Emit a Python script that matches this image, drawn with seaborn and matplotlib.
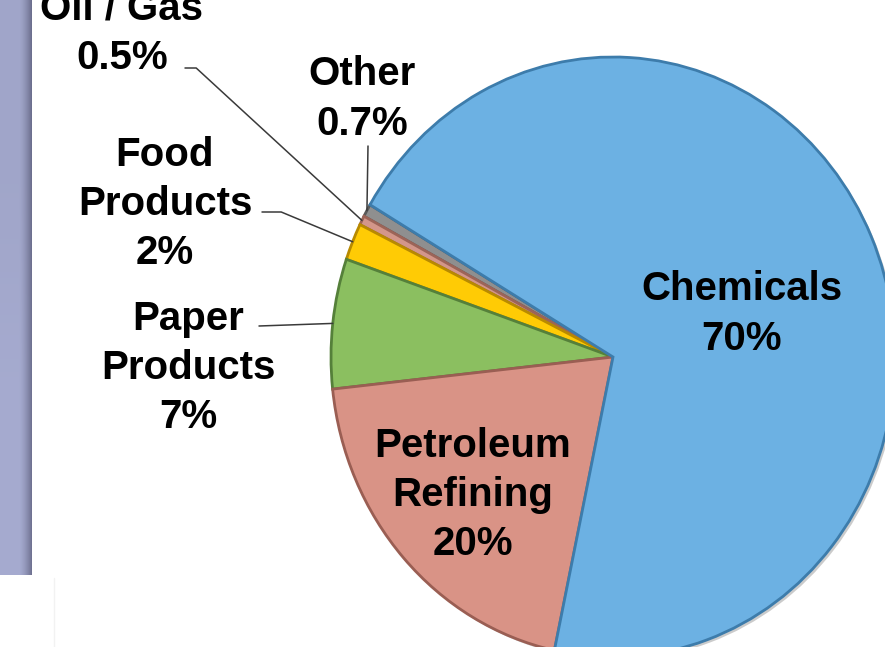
import numpy as np
import matplotlib
matplotlib.use("Agg")
import matplotlib.pyplot as plt
import matplotlib.patheffects as pe
import seaborn as sns

# Data (counterclockwise order starting at the top-left edge)
sectors = ["Other", "Oil / Gas", "Food\nProducts", "Paper\nProducts", "Petroleum\nRefining", "Chemicals"]
shares = [0.7, 0.5, 2, 7, 20, 70]
pct_labels = ["0.7%", "0.5%", "2%", "7%", "20%", "70%"]
colors = ["#8f8f8f", "#d3968a", "#ffcb05", "#8bbf60", "#d99386", "#6cb1e3"]
edge_colors = ["#5a5a5a", "#9c6458", "#b88a00", "#55803a", "#9a5e53", "#3d7cab"]

sns.set_style("white")
plt.rcParams["font.family"] = ["Liberation Sans", "DejaVu Sans"]

W, H = 885, 647
fig = plt.figure(figsize=(W / 100, H / 100), dpi=100)
fig.patch.set_facecolor("white")

# pie axes, centre at (613, 357) px, radii 282 px (x) and 300 px (y)
cx, cy, rx, ry = 613, 357, 282, 300
ax = fig.add_axes([0, 0, 1, 1])
ax.patch.set_alpha(0)
wedges, _ = ax.pie(shares, colors=colors, startangle=149.5, counterclock=True,
                   radius=1, wedgeprops=dict(linewidth=2))
for w, ec in zip(wedges, edge_colors):
    w.set_edgecolor(ec)
    w.set_path_effects([pe.SimplePatchShadow(offset=(2, -2), shadow_rgbFace="#555555", alpha=0.3),
                        pe.Normal()])
ax.set_aspect("auto")
ax.set_xlim(-cx / rx, (W - cx) / rx)
ax.set_ylim(-(H - cy) / ry, cy / ry)
ax.axis("off")

# overlay axes in image pixel coordinates (y down) for strip and labels
bg = fig.add_axes([0, 0, 1, 1])
bg.patch.set_alpha(0)
bg.axis("off")

# grey-blue slide strip on the left with darker right edge
grad_x = np.linspace(0, 1, 64)
shade = np.clip((grad_x - 0.6) / 0.4, 0, 1) ** 1.5
base = np.array([0.63, 0.65, 0.79])
dark = np.array([0.42, 0.43, 0.55])
strip = base[None, :] * (1 - shade[:, None]) + dark[None, :] * shade[:, None]
strip = np.repeat(strip[None, :, :], 2, axis=0)
strip[1] = strip[1] * 1.03
bg.imshow(np.clip(strip, 0, 1), extent=(0, 32, 575, 0), aspect="auto", zorder=1)
bg.plot([54, 54], [578, H], color="#f2f2f2", lw=1, zorder=1)
bg.set_xlim(0, W)
bg.set_ylim(H, 0)

text_kw = dict(fontsize=29, fontweight="bold", color="black", ha="center", va="center",
               linespacing=1.37, zorder=5)

# label centres in image pixels
label_pos = {
    "Other": (362, 99),
    "Oil / Gas": (122, 33),
    "Food\nProducts": (165, 204),
    "Paper\nProducts": (188, 368),
    "Petroleum\nRefining": (473, 495),
    "Chemicals": (742, 314),
}
# leader line starts (image pixels) and connection styles
leaders = {
    "Other": ((368, 146), "arc3"),
    "Oil / Gas": ((185, 68), "angle,angleA=0,angleB=-42.6,rad=0"),
    "Food\nProducts": ((262, 212), "angle,angleA=0,angleB=-22.6,rad=0"),
    "Paper\nProducts": ((259, 326), "arc3"),
}

for name, pct, w in zip(sectors, pct_labels, wedges):
    x, y = label_pos[name]
    bg.text(x, y, f"{name}\n{pct}", **text_kw)
    if name in leaders:
        start, conn = leaders[name]
        mid = np.deg2rad((w.theta1 + w.theta2) / 2)
        ax.annotate("", xy=(np.cos(mid), np.sin(mid)), xycoords="data",
                    xytext=start, textcoords=bg.transData,
                    arrowprops=dict(arrowstyle="-", color="#3a3a3a", lw=1.1,
                                    shrinkA=0, shrinkB=0, connectionstyle=conn),
                    zorder=4)

fig.savefig("out.png", dpi=100)
